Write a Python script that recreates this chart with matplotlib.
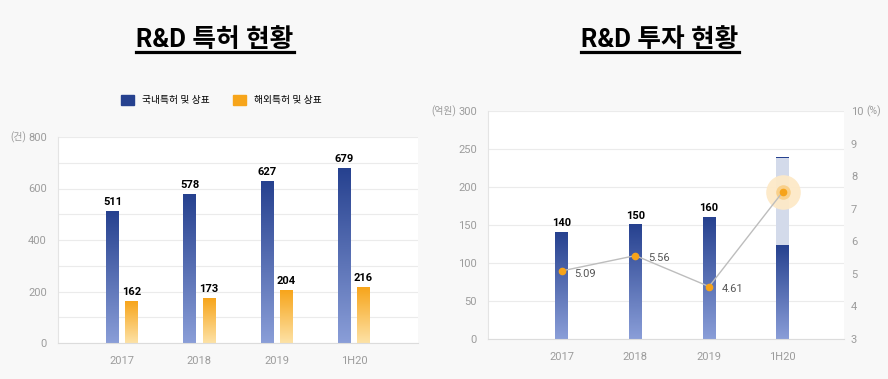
import matplotlib
matplotlib.use('Agg')
import matplotlib.pyplot as plt
import numpy as np
from matplotlib.colors import LinearSegmentedColormap
from matplotlib.patches import Patch
from matplotlib.lines import Line2D

plt.rcParams['font.family'] = ['Roboto', 'Noto Sans CJK KR', 'DejaVu Sans']

# --- data ---
years = ['2017', '2018', '2019', '1H20']
domestic = [511, 578, 627, 679]          # 국내특허 및 상표
overseas = [162, 173, 204, 216]          # 해외특허 및 상표
invest = [140, 150, 160, 123]            # R&D 투자 (억원)
invest_1h20_annual = 240                 # 1H20 연환산 (light bar)
invest_ratio = [5.09, 5.56, 4.61, 7.52]  # 매출 대비 (%)

BG = '#f8f8f8'
BLUE_TOP, BLUE_BOT = '#26418f', '#8a9ed8'
ORG_TOP, ORG_BOT = '#f7a51b', '#fde2a6'
TICK = '#9c9c9c'
GRID = '#ebebeb'

W, H = 888, 379


def gradient_bars(ax, bars, top, bottom, z=2):
    """Replace plain bar fill with a vertical gradient (dark top -> light bottom)."""
    cmap = LinearSegmentedColormap.from_list('g', [bottom, top])
    grad = np.linspace(1, 0, 256).reshape(-1, 1)
    for b in bars:
        x, y, w, h = b.get_x(), b.get_y(), b.get_width(), b.get_height()
        ax.imshow(grad, cmap=cmap, vmin=0, vmax=1, extent=[x, x + w, y, y + h],
                  aspect='auto', origin='upper', zorder=z, interpolation='bilinear')
        b.set_facecolor('none')
        b.set_edgecolor('none')


def style_axis(ax):
    ax.set_facecolor('white')
    for s in ['top', 'right']:
        ax.spines[s].set_visible(False)
    ax.spines['left'].set_color('#e4e4e4')
    ax.spines['bottom'].set_color('#dcdcdc')
    ax.tick_params(axis='both', which='both', length=0, colors=TICK, labelsize=8)
    ax.tick_params(axis='x', pad=9)
    ax.tick_params(axis='y', pad=8)
    ax.set_axisbelow(True)


def underlined_title(fig, x, y, text):
    t = fig.text(x, y, text, ha='center', va='baseline', fontsize=18.5,
                 fontweight='bold', color='black')
    fig.canvas.draw()
    bb = t.get_window_extent().transformed(fig.transFigure.inverted())
    yl = y - 4.5 / H
    fig.add_artist(Line2D([bb.x0, bb.x1], [yl, yl], color='black', lw=2.3,
                          transform=fig.transFigure))


fig = plt.figure(figsize=(W / 100, H / 100), dpi=100, facecolor=BG)
x = np.arange(len(years))

# --- left: R&D 특허 현황 ---
ax1 = fig.add_axes([58 / W, 1 - 343 / H, 360 / W, 206 / H])
style_axis(ax1)
b1 = ax1.bar(x - 0.125, domestic, width=0.165)
b2 = ax1.bar(x + 0.125, overseas, width=0.165)
gradient_bars(ax1, b1, BLUE_TOP, BLUE_BOT)
gradient_bars(ax1, b2, ORG_TOP, ORG_BOT)
ax1.bar_label(b1, padding=3, fontsize=8, fontweight='bold', color='black')
ax1.bar_label(b2, padding=3, fontsize=8, fontweight='bold', color='black')
ax1.set_xlim(-0.83, 3.83)
ax1.set_ylim(0, 800)
ax1.set_yticks(np.arange(0, 801, 200))
ax1.set_yticks(np.arange(100, 800, 200), minor=True)
ax1.grid(axis='y', which='both', color=GRID, lw=0.8)
ax1.set_xticks(x, years)
fig.text(10 / W, 1 - 137 / H, '(건)', va='center', ha='left', fontsize=7, color=TICK)

handles = [Patch(color=BLUE_TOP), Patch(color=ORG_TOP)]
fig.legend(handles, ['국내특허 및 상표', '해외특허 및 상표'], loc='center',
           bbox_to_anchor=(221 / W, 1 - 100 / H), ncol=2, frameon=False,
           fontsize=7, handlelength=1.35, handleheight=1.35,
           handletextpad=0.8, columnspacing=2.4)

underlined_title(fig, 215 / W, 1 - 47 / H, 'R&D 특허 현황')

# --- right: R&D 투자 현황 ---
ax2 = fig.add_axes([488 / W, 1 - 339 / H, 356 / W, 228 / H])
style_axis(ax2)
ax2.bar(x[-1], invest_1h20_annual, width=0.172, color='#d3daea', zorder=1.5)
ax2.bar(x[-1], 2.5, bottom=invest_1h20_annual - 2.5, width=0.172,
        color=BLUE_TOP, zorder=1.6)
b3 = ax2.bar(x, invest, width=0.172)
gradient_bars(ax2, b3, BLUE_TOP, BLUE_BOT)
ax2.bar_label(b3, labels=[str(v) for v in invest[:-1]] + [''], padding=3,
              fontsize=8, fontweight='bold', color='black')
ax2.set_xlim(-1.0, 3.83)
ax2.set_ylim(0, 300)
ax2.set_yticks(np.arange(0, 301, 50))
ax2.grid(axis='y', color=GRID, lw=0.8)
ax2.set_xticks(x, years)

ax3 = ax2.twinx()
ax3.set_ylim(3, 10)
ax3.set_yticks(np.arange(3, 11, 1))
for s in ax3.spines.values():
    s.set_visible(False)
ax3.tick_params(axis='y', length=0, colors=TICK, labelsize=8, pad=5)
ax3.scatter(x[-1], invest_ratio[-1], s=620, color='#fde9c8', alpha=0.95, zorder=3, lw=0)
ax3.scatter(x[-1], invest_ratio[-1], s=110, color='#f9d08a', zorder=3, lw=0)
ax3.plot(x, invest_ratio, color='#bdbdbd', lw=1, zorder=4)
ax3.plot(x, invest_ratio, 'o', color='#f6a31a', ms=4.5, zorder=5)
for xi, v in zip(x[:-1], invest_ratio[:-1]):
    ax3.annotate(f'{v:.2f}', (xi, v), xytext=(9, -2), textcoords='offset points',
                 ha='left', va='center', fontsize=8, color='#555555')

fig.text(431 / W, 1 - 111 / H, '(억원)', va='center', ha='left', fontsize=7, color=TICK)
fig.text(866 / W, 1 - 111 / H, '(%)', va='center', ha='left', fontsize=7.5, color=TICK)

underlined_title(fig, 660 / W, 1 - 47 / H, 'R&D 투자 현황')

fig.savefig('out.png', dpi=100, facecolor=BG)
